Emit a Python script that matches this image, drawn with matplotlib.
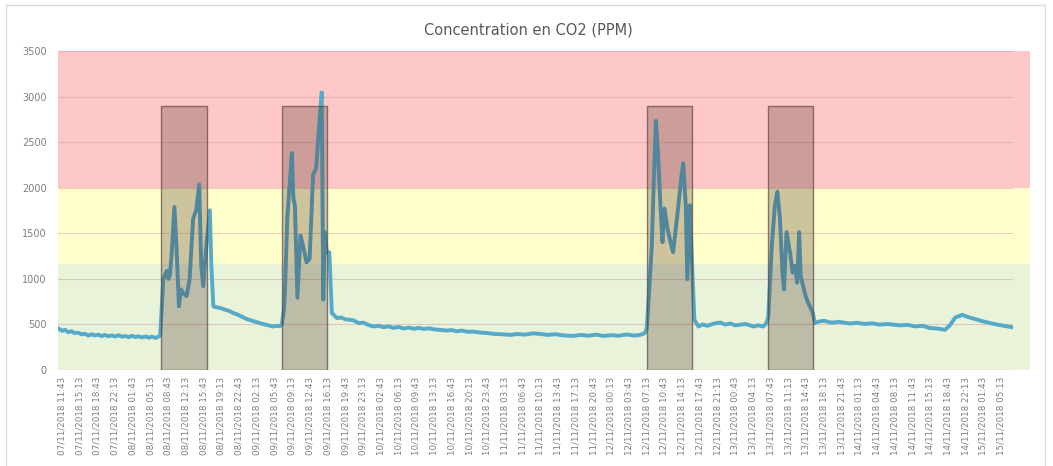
import matplotlib
matplotlib.use("Agg")
import matplotlib.pyplot as plt
from matplotlib.patches import Rectangle
import pandas as pd

# ---- data ----
hours = [-0.7, 0.0, 0.6, 1.2, 1.9, 2.5, 3.2, 3.8, 4.5, 5.2, 5.8, 6.5, 7.2, 7.8, 8.5, 9.2, 9.8,
         10.5, 11.2, 11.8, 12.5, 13.2, 13.8, 14.5, 15.1, 15.8, 16.5, 17.2, 17.8, 18.5, 19.0,
         19.4, 19.8, 20.0, 20.4, 20.7, 21.0, 21.3, 21.7, 22.2, 22.6, 23.1, 23.5, 24.0, 24.6,
         25.2, 25.9, 26.5, 27.1, 27.5, 27.9, 28.5, 29.2, 29.5, 29.9, 30.4, 31.2, 32.2, 33.0,
         33.8, 34.6, 35.5, 36.5, 37.3, 38.2, 39.1, 40.0, 40.8, 41.7, 42.5, 43.0, 43.4, 43.8,
         44.0, 44.5, 44.9, 45.4, 45.7, 46.0, 46.5, 47.1, 47.6, 48.3, 48.9, 49.6, 50.2, 50.8,
         51.3, 51.6, 51.9, 52.3, 52.8, 53.3, 54.3, 55.2, 56.0, 56.9, 57.5, 58.7, 59.5, 60.5,
         61.5, 62.5, 63.5, 64.5, 65.5, 66.5, 67.5, 68.5, 69.5, 70.5, 71.5, 72.5, 73.5, 74.7,
         76.0, 77.0, 78.0, 79.0, 80.0, 81.2, 82.5, 84.0, 85.5, 87.0, 88.5, 90.0, 91.5, 93.0,
         94.4, 96.0, 97.5, 99.0, 101.0, 102.5, 104.0, 105.5, 107.0, 108.5, 110.0, 111.5, 113.0,
         114.2, 115.1, 115.5, 116.0, 116.5, 116.9, 117.3, 117.7, 118.2, 118.6, 119.0, 119.6,
         120.2, 120.7, 121.6, 122.3, 122.7, 123.2, 123.5, 124.0, 124.3, 124.9, 125.7, 126.5,
         127.5, 128.5, 129.3, 130.0, 131.0, 132.0, 133.0, 133.9, 135.0, 136.6, 137.5, 138.5,
         139.2, 139.5, 140.2, 140.8, 141.3, 141.8, 142.3, 142.6, 143.1, 143.8, 144.3, 144.8,
         145.2, 145.6, 145.9, 146.7, 147.2, 147.7, 148.3, 148.7, 149.5, 150.5, 152.0, 153.5,
         155.6, 157.0, 158.5, 160.0, 161.5, 163.0, 165.5, 167.0, 168.5, 170.0, 171.4, 173.0,
         174.4, 175.5, 176.4, 177.8, 179.0, 180.3, 181.5, 183.3, 184.5, 186.0, 187.6]
co2_ppm = [455, 430, 440, 415, 425, 405, 410, 392, 398, 378, 392, 380, 388, 372, 385, 370, 380,
           368, 382, 366, 372, 360, 375, 362, 370, 358, 368, 355, 366, 352, 365,
           380, 800, 995, 1050, 1087, 1000, 1040, 1300, 1790, 1364, 699, 884, 840, 810,
           995, 1660, 1752, 2037, 1142, 920, 1364, 1752, 1142, 699, 690, 681, 662, 650,
           625, 610, 585, 559, 545, 528, 514, 500, 490, 477, 485, 480, 496, 650,
           810, 1660, 1993, 2381, 1882, 1808, 792, 1475, 1364, 1180, 1217, 2141, 2215, 2695,
           3046, 773, 1513, 1291, 1291, 625, 570, 575, 555, 551, 545, 514, 520, 495,
           477, 485, 470, 478, 462, 472, 455, 465, 452, 462, 450, 458, 445, 440,
           432, 438, 425, 432, 420, 421, 412, 405, 395, 392, 385, 395, 388, 402,
           396, 385, 392, 380, 374, 385, 376, 388, 374, 382, 376, 390, 378,
           385, 404, 459, 900, 1364, 2104, 2733, 2400, 1808, 1402, 1771, 1549,
           1400, 1291, 1734, 2104, 2270, 1808, 995, 1808, 1364, 551, 477, 500,
           485, 505, 515, 521, 498, 510, 490, 496, 505, 477, 490, 477,
           520, 588, 1364, 1808, 1956, 1660, 1069, 884, 1513, 1291, 1069, 1142,
           958, 1513, 1032, 847, 760, 699, 625, 514, 532, 540, 520, 528,
           510, 518, 505, 512, 498, 505, 490, 495, 478, 485, 460, 455,
           440, 500, 575, 605, 580, 560, 540, 515, 500, 485, 470]

# threshold bands (ppm)
band_edges = [0, 1160, 2000, 3500]
band_colors = ["#E8F3DA", "#FFFFCC", "#FFC8C8"]

# occupancy periods (hours since 07/11/2018 11:43), box height in ppm
occ_start = [19.6, 43.4, 115.5, 139.4]
occ_end = [28.6, 52.4, 124.4, 148.4]
occ_height = 2900

# tick labels every 3.5 h
tick_times = pd.date_range("2018-11-07 11:43", "2018-11-15 05:13", freq="210min")
tick_labels = [t.strftime("%d/%m/%Y %H:%M") for t in tick_times]
tick_hours = [(t - tick_times[0]).total_seconds() / 3600 for t in tick_times]

# ---- figure ----
W, H = 1053, 466
fig = plt.figure(figsize=(W / 100, H / 100), dpi=100)
fig.patch.set_facecolor("white")

def fx(px):
    return px / W

def fy(py):
    return 1 - py / H

ax = fig.add_axes([fx(58), fy(370), fx(1013) - fx(58), fy(51) - fy(370)])
ax.set_facecolor("white")

x0 = -0.79
x1 = (1013 - 62) / 5.063
ax.set_xlim(x0, x1)
ax.set_ylim(0, 3500)

# bands overhang the plot area slightly on the right, as in the original
overhang = (1030 - 58) / (1013 - 58)
for i, c in enumerate(band_colors):
    ax.axhspan(band_edges[i], band_edges[i + 1], xmin=0, xmax=overhang, color=c,
               zorder=0, lw=0, clip_on=False)

ax.set_yticks(range(0, 3501, 500))
ax.yaxis.grid(True, color="#D4A0A0", lw=0.8, alpha=0.5, zorder=1)
ax.set_axisbelow(False)

ax.plot(hours, co2_ppm, color="#55A9C9", lw=2.8, zorder=3, solid_joinstyle="round")

for s, e in zip(occ_start, occ_end):
    ax.add_patch(Rectangle((s, 0), e - s, occ_height, facecolor=(0.30, 0.18, 0.14, 0.28),
                           edgecolor=(0.35, 0.28, 0.26, 0.7), lw=1.0, zorder=4))

ax.set_xticks(tick_hours)
ax.set_xticklabels(tick_labels, rotation=90, fontsize=6.3, color="#7F7F7F")
ax.tick_params(axis="y", labelsize=7, colors="#7F7F7F", length=0, pad=8)
ax.tick_params(axis="x", length=0, pad=5)
for sp in ax.spines.values():
    sp.set_visible(False)

fig.text(fx(528), fy(30), "Concentration en CO2 (PPM)", ha="center", va="center",
         fontsize=10.5, color="#595959")

fig.patches.append(Rectangle((fx(6), fy(470)), fx(1045) - fx(6), fy(5) - fy(470),
                             transform=fig.transFigure, fill=False, edgecolor="#D9D9D9",
                             lw=1.0))

fig.savefig("out.png", dpi=100)
